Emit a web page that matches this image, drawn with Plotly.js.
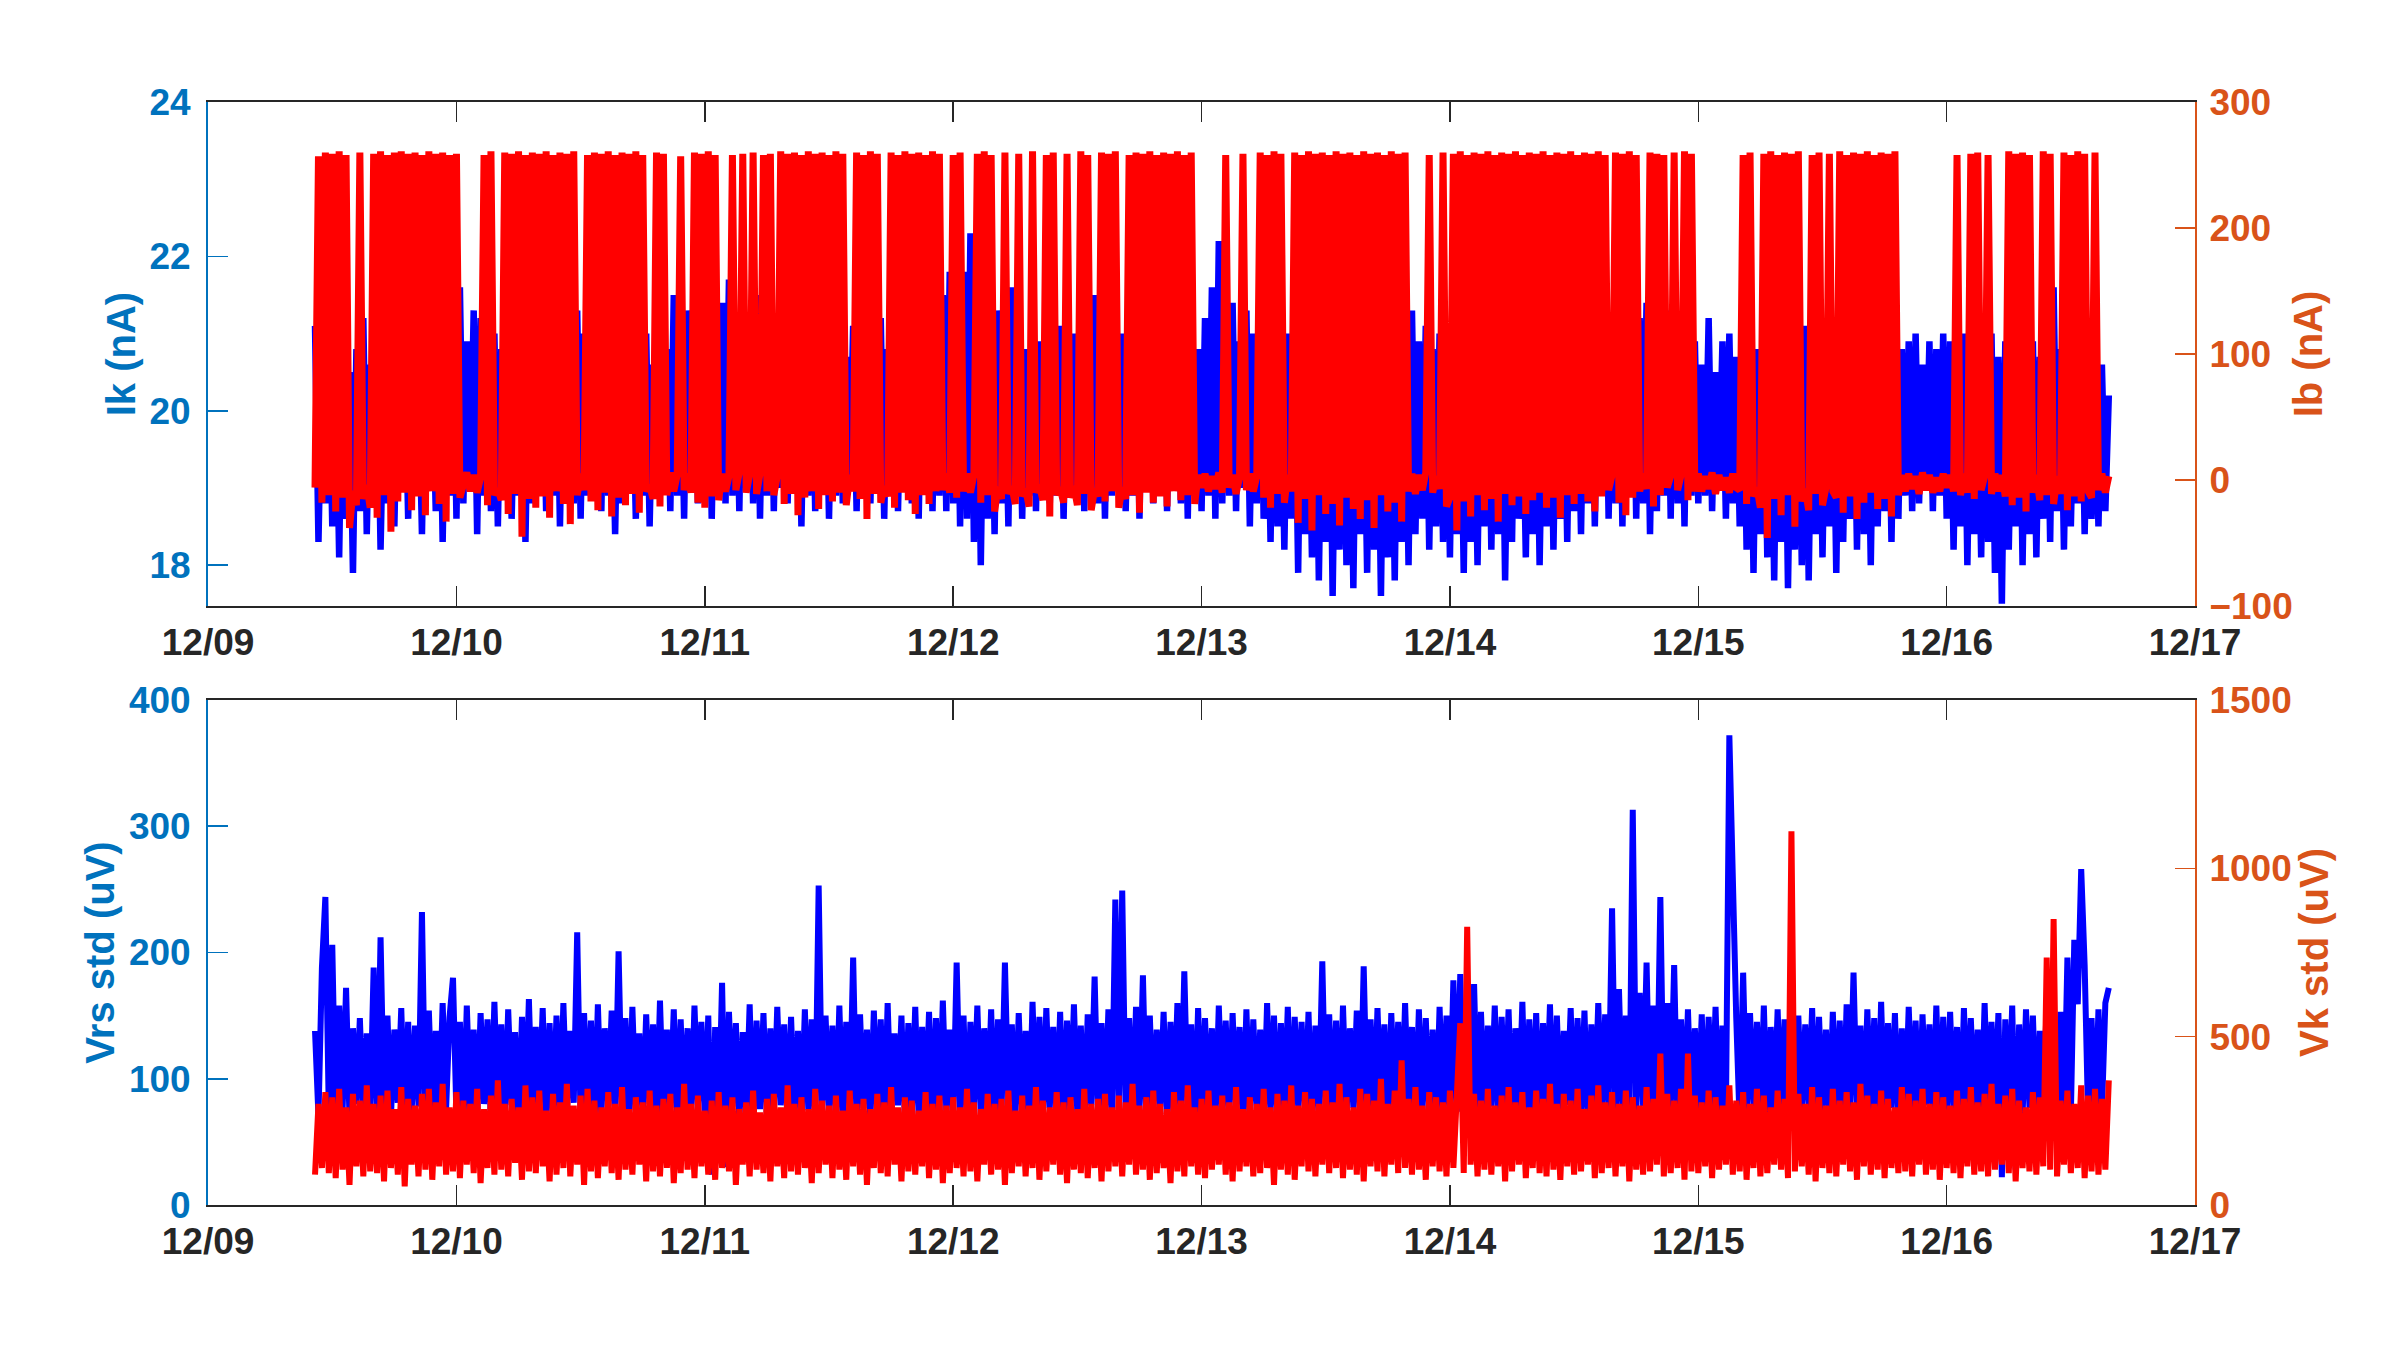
<!DOCTYPE html>
<html>
<head>
<meta charset="utf-8">
<script src="https://cdn.plot.ly/plotly-3.0.1.min.js"></script>
<style>
  html, body { margin: 0; padding: 0; background: #ffffff; }
  #chart { width: 2400px; height: 1350px; }
</style>
</head>
<body>
<div id="chart"></div>
<script>
(function () {
  "use strict";

  // one sample every 20 minutes, 12/09 10:20 to 12/16 15:40
  var startTime = "2019-12-09T10:20:00Z";
  var stepMinutes = 20;

  var dayTicks = ["2019-12-09", "2019-12-10", "2019-12-11", "2019-12-12", "2019-12-13",
                  "2019-12-14", "2019-12-15", "2019-12-16", "2019-12-17"];
  var dayLabels = ["12/09", "12/10", "12/11", "12/12", "12/13", "12/14", "12/15", "12/16", "12/17"];

  // Ik (nA), left axis of the top panel
  var ik = [
    // 12/09
    21.1, 18.3, 20.6, 18.8, 20.9,
    18.5, 20.7, 18.1, 21.0, 18.6, 20.5, 17.9, 20.8, 18.7, 21.2, 18.4, 20.6,
    18.9, 20.9, 18.2, 20.4, 18.8, 21.0, 18.5, 20.7, 19.0, 20.8, 18.6, 21.1,
    18.9, 20.5, 18.4, 20.9, 19.0, 20.6, 18.7, 21.0, 18.3, 20.8, 18.9, 21.3,
    // 12/10
    18.6, 21.6, 18.8, 20.9, 19.0, 21.3, 18.4, 21.2, 18.9, 20.7, 18.7, 21.0,
    18.5, 20.8, 19.0, 21.1, 18.6, 20.6, 18.9, 21.4, 18.3, 20.9, 18.8, 20.7,
    19.0, 21.0, 18.7, 20.5, 18.9, 21.2, 18.5, 20.8, 19.0, 20.6, 18.8, 21.3,
    18.6, 21.0, 18.9, 20.7, 19.1, 20.9, 18.7, 21.1, 18.9, 20.6, 18.4, 20.8,
    18.8, 21.2, 19.0, 20.7, 18.6, 20.9, 18.9, 21.0, 18.5, 20.6, 18.9, 21.1,
    19.0, 20.8, 18.7, 21.5, 18.9, 21.0, 18.6, 21.3, 19.0, 20.7, 18.8, 20.9,
    // 12/11
    18.9, 21.1, 18.6, 20.8, 19.0, 21.4, 18.8, 21.7, 18.9, 21.0, 18.7, 21.3,
    19.0, 20.9, 18.8, 21.5, 18.6, 21.1, 18.9, 21.6, 18.7, 20.8, 19.0, 21.2,
    18.8, 20.7, 19.0, 21.0, 18.5, 20.9, 18.9, 21.2, 18.7, 20.6, 19.0, 21.0,
    18.6, 20.8, 18.9, 21.3, 18.8, 20.7, 19.0, 21.1, 18.7, 20.9, 18.9, 20.6,
    18.8, 21.0, 19.0, 21.2, 18.6, 20.8, 18.9, 21.4, 18.7, 20.7, 19.0, 21.1,
    18.8, 20.9, 18.6, 21.2, 19.0, 20.8, 18.7, 21.0, 18.9, 21.5, 18.7, 21.8,
    // 12/12
    18.8, 21.4, 18.5, 21.8, 18.6, 22.3, 18.3, 21.5, 18.0, 21.1, 18.6, 20.9,
    18.4, 21.3, 18.8, 20.7, 18.5, 21.6, 18.9, 21.0, 18.6, 20.8, 18.9, 21.2,
    18.7, 20.9, 19.0, 21.4, 18.8, 20.6, 18.9, 21.1, 18.6, 20.8, 19.0, 21.0,
    18.8, 21.3, 18.7, 20.7, 19.0, 21.5, 18.8, 20.9, 18.6, 21.2, 18.9, 20.8,
    19.0, 21.0, 18.7, 20.6, 18.9, 21.3, 18.6, 20.9, 19.0, 21.1, 18.8, 20.7,
    18.9, 21.2, 18.7, 20.8, 19.0, 21.4, 18.8, 21.0, 18.6, 21.3, 18.9, 20.8,
    // 12/13
    18.7, 21.2, 18.9, 21.6, 18.6, 22.2, 18.8, 21.0, 18.9, 21.4, 18.7, 20.9,
    19.0, 21.3, 18.5, 21.0, 18.8, 21.5, 18.6, 20.8, 18.3, 21.1, 18.5, 20.7,
    18.2, 21.0, 18.6, 20.9, 17.9, 21.2, 18.4, 20.6, 18.1, 21.0, 17.8, 20.8,
    18.3, 21.1, 17.6, 20.7, 18.2, 21.3, 18.0, 20.9, 17.7, 21.0, 18.4, 20.6,
    17.9, 21.2, 18.2, 20.8, 17.6, 21.0, 18.1, 20.7, 17.8, 21.1, 18.3, 20.9,
    18.0, 21.3, 18.4, 20.9, 18.6, 21.1, 18.2, 20.8, 18.5, 21.0, 18.3, 20.7,
    // 12/14
    18.1, 21.0, 18.4, 20.8, 17.9, 21.1, 18.3, 20.6, 18.0, 20.9, 18.5, 21.2,
    18.2, 20.7, 18.4, 21.0, 17.8, 20.8, 18.3, 21.1, 18.6, 20.6, 18.1, 20.9,
    18.4, 21.0, 18.0, 20.7, 18.5, 21.2, 18.2, 20.8, 18.6, 20.9, 18.3, 21.1,
    18.7, 20.8, 18.4, 21.0, 18.8, 21.3, 18.5, 20.9, 18.9, 21.5, 18.6, 21.1,
    18.8, 21.4, 18.5, 21.0, 18.9, 21.7, 18.6, 21.2, 18.8, 21.4, 18.4, 21.0,
    18.7, 21.9, 18.9, 21.3, 18.6, 21.6, 18.8, 21.1, 18.5, 21.4, 18.9, 20.9,
    // 12/15
    18.8, 20.6, 18.9, 21.2, 18.7, 20.5, 19.0, 20.9, 18.6, 21.0, 18.8, 20.7,
    18.5, 20.9, 18.2, 21.1, 17.9, 20.8, 18.4, 21.0, 18.1, 20.7, 17.8, 20.9,
    18.3, 21.0, 17.7, 20.6, 18.2, 20.9, 18.0, 21.1, 17.8, 20.8, 18.4, 21.0,
    18.1, 20.7, 18.5, 20.9, 17.9, 21.0, 18.3, 20.8, 18.6, 20.9, 18.2, 21.1,
    18.4, 20.8, 18.0, 21.0, 18.5, 20.7, 18.7, 20.9, 18.3, 21.0, 18.6, 20.8,
    18.9, 20.9, 18.7, 21.0, 18.8, 20.6, 19.0, 20.9, 18.7, 20.8, 18.9, 21.0,
    // 12/16
    18.6, 20.9, 18.2, 20.7, 18.5, 21.0, 18.0, 20.8, 18.4, 20.6, 18.1, 20.9,
    18.3, 21.0, 17.9, 20.7, 17.5, 20.9, 18.2, 20.6, 18.5, 21.0, 18.0, 20.8,
    18.4, 20.9, 18.1, 20.7, 18.6, 21.1, 18.3, 21.6, 18.7, 20.8, 18.2, 20.9,
    18.5, 20.6, 18.8, 21.0, 18.4, 20.7, 18.6, 20.5, 18.5, 20.6, 18.7, 20.2
  ];

  // Ib (nA), right axis of the top panel
  var ib = [
    // 12/09
    -6, 257, -18, 260, -12,
    259, -25, 261, -14, 258, -38, -9, -20, 260, -15, -4, -22,
    259, -30, 261, -12, 258, -41, 260, -17, 261, -10, 259, -24,
    260, -13, 258, -28, 261, -9, 259, -19, 260, -33, 258, -11,
    // 12/10
    259, -14, -5, 6, -9, 4, -10, 2, 258, -20, 261, -12,
    -7, -16, 260, -27, 259, -11, 261, -45, 258, -15, 260, -22,
    259, -13, 261, -30, 258, -9, 260, -19, 259, -35, 261, -12,
    5, -8, 258, -17, 260, -24, 259, -10, 261, -29, 258, -14,
    260, -20, 259, -11, 261, -26, 258, -9, -4, -15, 260, -21,
    259, -12, 6, -9, 4, 257, -8, 5, -10, 260, -18, 259,
    // 12/11
    -22, 261, -13, 258, -16, 5, -9, 3, 258, -8, 6, 259,
    -10, 4, 260, -11, 5, 258, -9, 259, -12, 3, 261, -19,
    259, -11, 260, -28, 258, -14, 261, -9, 259, -23, 260, -12,
    258, -17, 261, -10, 259, -20, 4, -9, 260, -15, 258, -31,
    261, -11, 259, -18, -5, -13, 260, -22, 258, -10, 261, -16,
    259, -27, 260, -12, 258, -19, 261, -9, 259, -8, 5, -10,
    // 12/12
    258, -14, 260, -9, 5, -10, 4, 259, -18, 261, -12, 258,
    -25, -6, -15, 260, -11, -5, -19, 259, -13, -7, -21, 261,
    -10, -4, -16, 258, -29, 260, -12, -6, -18, 259, -14, -5,
    -20, 261, -11, 258, -24, -7, -13, 260, -17, 259, -9, 261,
    -22, -6, -15, 258, -12, 260, -26, 259, -10, 261, -18, 258,
    -13, 260, -21, 259, -9, 261, -16, 258, -12, 260, -19, 4,
    // 12/13
    -6, 5, -9, 3, -7, 6, -10, 258, -6, 4, -11, 2,
    259, -8, 5, -9, 3, 260, -14, 258, -22, 261, -11, 259,
    -18, 4, -9, 260, -34, 258, -15, 261, -40, 259, -12, 260,
    -27, 258, -19, 261, -36, 259, -14, 260, -23, 258, -31, 261,
    -16, 259, -38, 260, -12, 258, -25, 261, -18, 259, -33, 260,
    -9, 5, -11, 4, -8, 6, 258, -10, 3, -7, 260, -21,
    // 12/14
    -14, 259, -40, 261, -17, 258, -29, 260, -12, 259, -24, 261,
    -15, 258, -33, 260, -11, 259, -20, 261, -13, 258, -27, 260,
    -16, 259, -10, 261, -22, 258, -14, 260, -30, 259, -12, 261,
    -19, 258, -11, 260, -17, 259, -25, 261, -13, 258, -8, 4,
    260, -18, 259, -28, 261, -14, 258, -9, 5, -7, 260, -21,
    259, -12, 258, -6, 3, 260, -8, 4, 261, -16, 259, -9,
    // 12/15
    5, -9, 3, -7, 6, -11, 4, -8, 2, -10, 5, -6,
    -8, 258, -19, 260, -13, -6, -22, 259, -46, 261, -15, 258,
    -28, 260, -12, 259, -37, 261, -17, -7, -24, 258, -11, 260,
    -20, -6, 259, -9, -14, 261, -26, 258, -13, 260, -31, 259,
    -18, 261, -10, 258, -23, 260, -15, 259, -29, 261, -12, 4,
    -9, 5, -7, 3, -11, 6, -8, 4, -10, 2, -9, 5,
    // 12/16
    -6, 4, -9, 258, -12, 5, -10, 259, -15, 260, -8, 3,
    258, -11, 5, -9, 4, -13, 261, -20, 259, -14, 260, -25,
    258, -10, 4, -16, 261, -12, 259, -19, 3, -11, 260, -24,
    258, -13, 261, -17, 259, -9, -14, 260, -8, 5, -10, 3
  ];

  // Vrs std (uV), left axis of the bottom panel
  var vrs = [
    // 12/09
    138, 70, 188, 244, 72,
    206, 64, 158, 75, 172, 68, 140, 80, 148, 71, 136, 77,
    188, 62, 212, 74, 150, 69, 139, 81, 156, 66, 145, 73,
    142, 78, 232, 65, 154, 72, 138, 70, 160, 76, 149, 180,
    // 12/10
    70, 145, 62, 158, 75, 139, 68, 152, 80, 147, 64, 161,
    73, 143, 66, 155, 79, 137, 60, 149, 72, 163, 69, 141,
    77, 156, 63, 144, 71, 150, 67, 160, 74, 138, 81, 216,
    65, 152, 76, 146, 62, 159, 70, 140, 78, 154, 66, 201,
    73, 148, 61, 157, 75, 136, 69, 151, 80, 143, 64, 162,
    71, 139, 77, 155, 63, 147, 72, 140, 66, 158, 79, 145,
    // 12/11
    68, 150, 24, 141, 62, 176, 30, 153, 78, 144, 65, 137,
    73, 159, 60, 146, 76, 152, 67, 140, 71, 157, 79, 143,
    64, 149, 72, 138, 66, 155, 75, 147, 61, 253, 70, 150,
    78, 142, 63, 158, 69, 145, 74, 196, 62, 151, 77, 139,
    66, 154, 73, 147, 60, 160, 71, 136, 79, 150, 65, 144,
    72, 157, 68, 141, 76, 153, 63, 148, 70, 162, 74, 139,
    // 12/12
    67, 192, 75, 150, 62, 145, 78, 158, 69, 140, 73, 155,
    64, 147, 71, 192, 80, 143, 66, 152, 74, 138, 60, 161,
    72, 149, 65, 156, 77, 141, 68, 153, 63, 146, 75, 159,
    70, 142, 61, 151, 79, 181, 67, 144, 73, 155, 64, 242,
    76, 249, 69, 148, 62, 157, 74, 182, 66, 150, 71, 139,
    78, 153, 63, 145, 72, 160, 67, 185, 75, 143, 61, 156,
    // 12/13
    70, 148, 77, 140, 64, 158, 73, 146, 68, 152, 79, 141,
    62, 155, 71, 147, 76, 139, 65, 160, 72, 150, 67, 144,
    74, 157, 61, 149, 78, 145, 69, 153, 63, 142, 75, 193,
    66, 151, 73, 146, 60, 158, 70, 140, 77, 154, 64, 189,
    71, 147, 68, 156, 75, 143, 62, 152, 79, 145, 67, 160,
    73, 141, 65, 155, 70, 148, 76, 139, 63, 157, 72, 150,
    // 12/14
    69, 178, 74, 183, 61, 146, 77, 175, 66, 153, 72, 142,
    78, 158, 64, 149, 71, 155, 67, 140, 75, 161, 62, 147,
    73, 152, 68, 144, 76, 159, 63, 150, 70, 138, 79, 156,
    65, 148, 72, 154, 61, 143, 74, 160, 69, 151, 77, 235,
    66, 171, 73, 150, 60, 313, 70, 168, 78, 192, 64, 158,
    71, 244, 67, 160, 75, 190, 62, 147, 74, 155, 68, 140,
    // 12/15
    76, 151, 63, 149, 72, 157, 66, 142, 70, 372, 235, 148,
    64, 184, 71, 152, 77, 145, 68, 158, 62, 141, 73, 155,
    69, 147, 75, 160, 61, 150, 72, 143, 78, 156, 66, 149,
    74, 139, 67, 153, 70, 146, 63, 159, 76, 184, 71, 142,
    65, 155, 73, 148, 60, 161, 68, 144, 77, 152, 62, 140,
    71, 157, 74, 146, 66, 151, 79, 143, 63, 158, 70, 149,
    // 12/16
    67, 153, 75, 141, 62, 156, 72, 148, 78, 139, 64, 160,
    69, 145, 76, 152, 22, 147, 73, 158, 28, 143, 70, 155,
    77, 150, 63, 138, 71, 161, 68, 146, 74, 153, 65, 196,
    72, 210, 159, 266, 190, 70, 148, 62, 155, 73, 160, 172
  ];

  // Vk std (uV), right axis of the bottom panel
  var vk = [
    // 12/09
    90, 300, 110, 335, 95,
    320, 80, 345, 105, 290, 60, 330, 115, 310, 85, 355, 100,
    300, 95, 325, 70, 340, 110, 285, 90, 350, 55, 315, 120,
    295, 85, 330, 105, 345, 75, 305, 115, 360, 90, 290, 100,
    // 12/10
    335, 80, 310, 120, 300, 95, 345, 65, 285, 110, 325, 90,
    370, 105, 300, 85, 315, 125, 290, 75, 355, 100, 320, 95,
    340, 115, 280, 70, 330, 90, 305, 110, 360, 85, 295, 120,
    325, 60, 345, 100, 310, 80, 290, 115, 335, 95, 300, 75,
    350, 105, 285, 90, 320, 120, 305, 70, 340, 100, 295, 85,
    315, 110, 330, 65, 290, 95, 360, 105, 300, 80, 325, 115,
    // 12/11
    280, 90, 310, 75, 335, 110, 295, 100, 320, 60, 285, 120,
    305, 85, 340, 105, 275, 95, 315, 70, 330, 115, 290, 80,
    355, 100, 300, 90, 320, 110, 285, 65, 345, 95, 310, 120,
    295, 80, 325, 105, 280, 75, 340, 115, 300, 90, 315, 60,
    285, 110, 330, 95, 305, 85, 350, 120, 290, 70, 320, 100,
    310, 90, 280, 115, 335, 80, 300, 105, 325, 65, 295, 95,
    // 12/12
    320, 110, 290, 85, 345, 100, 305, 70, 285, 120, 330, 90,
    300, 105, 315, 60, 340, 95, 280, 115, 325, 85, 295, 110,
    350, 75, 310, 100, 290, 120, 335, 90, 305, 65, 320, 105,
    285, 95, 345, 80, 300, 110, 315, 70, 330, 100, 290, 115,
    325, 85, 305, 120, 360, 90, 295, 105, 320, 75, 340, 95,
    300, 110, 285, 65, 335, 100, 310, 85, 355, 115, 290, 90,
    // 12/13
    315, 80, 340, 105, 295, 120, 325, 90, 305, 70, 350, 100,
    285, 115, 320, 85, 300, 95, 345, 110, 290, 60, 330, 105,
    310, 90, 355, 75, 295, 115, 335, 100, 315, 85, 300, 120,
    340, 95, 305, 110, 360, 80, 320, 105, 290, 90, 345, 70,
    330, 115, 310, 100, 375, 85, 300, 120, 340, 95, 430, 110,
    315, 90, 350, 105, 295, 75, 335, 115, 320, 100, 305, 85,
    // 12/14
    340, 110, 300, 540, 95, 826, 120, 330, 85, 310, 105, 345,
    90, 295, 115, 325, 70, 350, 100, 305, 120, 335, 80, 290,
    110, 340, 95, 315, 85, 360, 105, 300, 75, 330, 115, 310,
    90, 345, 100, 285, 120, 325, 80, 355, 95, 305, 110, 335,
    85, 300, 115, 340, 70, 320, 105, 295, 90, 350, 100, 315,
    120, 450, 85, 330, 95, 310, 110, 345, 75, 450, 100, 325,
    // 12/15
    95, 305, 115, 340, 80, 320, 105, 295, 120, 355, 90, 310,
    100, 335, 75, 300, 110, 345, 85, 325, 95, 290, 120, 340,
    105, 315, 80, 1110, 100, 330, 115, 300, 90, 350, 70, 320,
    110, 295, 95, 345, 85, 310, 120, 335, 100, 305, 75, 360,
    115, 325, 90, 300, 105, 340, 80, 315, 110, 290, 95, 350,
    100, 330, 85, 310, 120, 345, 90, 300, 105, 335, 75, 320,
    // 12/16
    110, 295, 95, 340, 80, 315, 115, 350, 90, 305, 100, 330,
    85, 360, 105, 300, 120, 325, 95, 345, 70, 310, 110, 290,
    100, 335, 90, 320, 115, 735, 105, 849, 85, 310, 120, 340,
    95, 300, 110, 355, 80, 325, 100, 345, 90, 315, 105, 370
  ];

  function sampleTimes(n) {
    var t0 = Date.parse(startTime);
    var out = [];
    for (var i = 0; i < n; i++) {
      out.push(new Date(t0 + i * stepMinutes * 60000).toISOString().slice(0, 19).replace("T", " "));
    }
    return out;
  }

  var blue = "#0000ff";
  var red = "#ff0000";
  var leftColor = "#0072bd";
  var rightColor = "#d95319";
  var dark = "#262626";
  var family = "Liberation Sans, Arial, sans-serif";

  function tickFont(color) {
    return { family: family, size: 37, color: color, weight: "bold" };
  }
  function titleFont(color) {
    return { family: family, size: 40, color: color, weight: "bold" };
  }

  function xAxis(anchor) {
    return {
      type: "date",
      anchor: anchor,
      domain: [0.0867, 0.9146],
      range: ["2019-12-09", "2019-12-17"],
      tickvals: dayTicks,
      ticktext: dayLabels,
      ticks: "inside",
      ticklen: 20,
      tickwidth: 1.5,
      tickcolor: dark,
      showline: true,
      linecolor: dark,
      linewidth: 2,
      mirror: "ticks",
      showgrid: false,
      zeroline: false,
      tickfont: tickFont(dark),
      ticklabelstandoff: 3,
      fixedrange: true
    };
  }

  function yAxis(domain, range, tickvals, title, color, side, overlay, anchor) {
    var ax = {
      domain: domain,
      range: range,
      tickvals: tickvals,
      side: side,
      anchor: anchor,
      ticks: "inside",
      ticklen: 20,
      tickwidth: 1.5,
      tickcolor: color,
      showline: true,
      linecolor: color,
      linewidth: 2,
      showgrid: false,
      zeroline: false,
      tickfont: tickFont(color),
      ticklabelstandoff: side === "left" ? 8 : 5,
      title: { text: title, font: titleFont(color), standoff: 2 },
      fixedrange: true
    };
    if (overlay) { ax.overlaying = overlay; }
    return ax;
  }

  var traces = [
    { x: sampleTimes(ik.length), y: ik, xaxis: "x", yaxis: "y", type: "scatter", mode: "lines",
      line: { color: blue, width: 6.5 }, hoverinfo: "skip" },
    { x: sampleTimes(ib.length), y: ib, xaxis: "x", yaxis: "y2", type: "scatter", mode: "lines",
      line: { color: red, width: 7 }, hoverinfo: "skip" },
    { x: sampleTimes(vrs.length), y: vrs, xaxis: "x2", yaxis: "y3", type: "scatter", mode: "lines",
      line: { color: blue, width: 6 }, hoverinfo: "skip" },
    { x: sampleTimes(vk.length), y: vk, xaxis: "x2", yaxis: "y4", type: "scatter", mode: "lines",
      line: { color: red, width: 6 }, hoverinfo: "skip" }
  ];

  var topDomain = [0.5511, 0.9244];
  var bottomDomain = [0.1074, 0.4815];

  var layout = {
    width: 2400,
    height: 1350,
    margin: { t: 0, r: 0, b: 0, l: 0 },
    paper_bgcolor: "#ffffff",
    plot_bgcolor: "#ffffff",
    showlegend: false,
    hovermode: false,
    xaxis: xAxis("y"),
    xaxis2: xAxis("y3"),
    yaxis: yAxis(topDomain, [17.47, 24], [18, 20, 22, 24], "Ik (nA)", leftColor, "left", null, "x"),
    yaxis2: yAxis(topDomain, [-100, 300], [-100, 0, 100, 200, 300], "Ib (nA)", rightColor, "right", "y", "x"),
    yaxis3: yAxis(bottomDomain, [0, 400], [0, 100, 200, 300, 400], "Vrs std (uV)", leftColor, "left", null, "x2"),
    yaxis4: yAxis(bottomDomain, [0, 1500], [0, 500, 1000, 1500], "Vk std (uV)", rightColor, "right", "y3", "x2")
  };

  Plotly.newPlot("chart", traces, layout, { displayModeBar: false, staticPlot: true });
}());
</script>
</body>
</html>
